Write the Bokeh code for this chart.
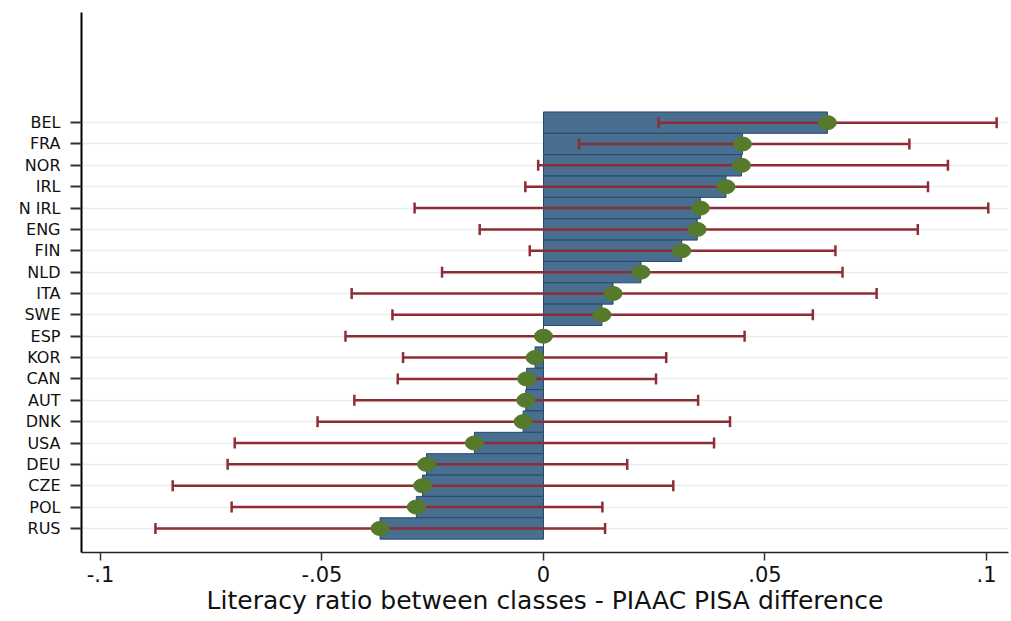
import math
from bokeh.plotting import figure
from bokeh.models import Range1d, FixedTicker, ColumnDataSource
from bokeh.embed import file_html
from bokeh.resources import INLINE

# ---- data (top to bottom as shown) ----
countries = ["BEL", "FRA", "NOR", "IRL", "N IRL", "ENG", "FIN", "NLD", "ITA", "SWE",
             "ESP", "KOR", "CAN", "AUT", "DNK", "USA", "DEU", "CZE", "POL", "RUS"]
estimate = [0.0641, 0.0449, 0.0447, 0.0412, 0.0354, 0.0347, 0.0312, 0.0220, 0.0157, 0.0132,
            0.0000, -0.0019, -0.0038, -0.0040, -0.0046, -0.0156, -0.0264, -0.0273, -0.0287, -0.0369]
ci_low = [0.0260, 0.0080, -0.0012, -0.0041, -0.0291, -0.0144, -0.0031, -0.0229, -0.0433, -0.0341,
          -0.0447, -0.0317, -0.0329, -0.0427, -0.0510, -0.0697, -0.0713, -0.0837, -0.0704, -0.0876]
ci_high = [0.1023, 0.0826, 0.0913, 0.0868, 0.1004, 0.0845, 0.0659, 0.0675, 0.0752, 0.0608,
           0.0454, 0.0277, 0.0254, 0.0349, 0.0421, 0.0385, 0.0189, 0.0293, 0.0133, 0.0139]
x_tick_values = [-0.1, -0.05, 0.0, 0.05, 0.1]
x_tick_labels = ["-.1", "-.05", "0", ".05", ".1"]
x_title = "Literacy ratio between classes - PIAAC PISA difference"

n = len(countries)
pos = list(range(n, 0, -1))

src = ColumnDataSource(dict(pos=pos, est=estimate, lo=ci_low, hi=ci_high, name=countries))

FONT = "DejaVu Sans"
BAR = "#486e90"
BAR_LINE = "#27496b"
ERR = "#8f2d35"
DOT = "#557a2c"

p = figure(width=1009, height=620, output_backend="svg", toolbar_location=None,
           x_range=Range1d(-0.10429, 0.10497), y_range=Range1d(-0.126, 25.156),
           min_border_left=81, min_border_right=1, min_border_top=12, min_border_bottom=68,
           background_fill_color="white", border_fill_color="white")
p.outline_line_color = None

# bars
p.hbar(y="pos", left=0, right="est", height=1.0, fill_color=BAR, line_color=BAR_LINE,
       line_width=1, source=src)

# error bars (line + caps)
p.segment(x0="lo", x1="hi", y0="pos", y1="pos", line_color=ERR, line_width=2.5, source=src)
p.scatter(x="lo", y="pos", marker="dash", angle=math.pi / 2, size=11,
          line_color=ERR, line_width=2.5, source=src)
p.scatter(x="hi", y="pos", marker="dash", angle=math.pi / 2, size=11,
          line_color=ERR, line_width=2.5, source=src)

# point estimates
p.ellipse(x="est", y="pos", width=18, height=14, width_units="screen", height_units="screen",
          fill_color=DOT, line_color=DOT, source=src)

# y axis
p.yaxis.ticker = FixedTicker(ticks=pos)
p.yaxis.major_label_overrides = {int(k): v for k, v in zip(pos, countries)}
p.yaxis.major_tick_out = 11
p.yaxis.major_tick_in = 0
p.yaxis.minor_tick_line_color = None
p.yaxis.axis_line_color = "black"
p.yaxis.axis_line_width = 2
p.yaxis.major_tick_line_color = "#333333"
p.yaxis.major_tick_line_width = 2
p.yaxis.major_label_standoff = 10
p.yaxis.major_label_text_font = FONT
p.yaxis.major_label_text_font_size = "16px"
p.yaxis.major_label_text_color = "#111111"

# x axis
p.xaxis.ticker = FixedTicker(ticks=x_tick_values)
p.xaxis.major_label_overrides = {float(k): v for k, v in zip(x_tick_values, x_tick_labels)}
p.xaxis.major_tick_out = 8
p.xaxis.major_tick_in = 0
p.xaxis.minor_tick_line_color = None
p.xaxis.axis_line_color = "#222222"
p.xaxis.axis_line_width = 1.5
p.xaxis.major_tick_line_color = "#333333"
p.xaxis.major_tick_line_width = 1.5
p.xaxis.major_label_standoff = 5
p.xaxis.major_label_text_font = FONT
p.xaxis.major_label_text_font_size = "21px"
p.xaxis.major_label_text_color = "#111111"
p.xaxis.axis_label = x_title
p.xaxis.axis_label_text_font = FONT
p.xaxis.axis_label_text_font_size = "25px"
p.xaxis.axis_label_text_font_style = "normal"
p.xaxis.axis_label_text_color = "#111111"
p.xaxis.axis_label_standoff = 1

# grid
p.xgrid.grid_line_color = None
p.ygrid.ticker = FixedTicker(ticks=pos)
p.ygrid.grid_line_color = "#e6eef1"
p.ygrid.grid_line_width = 1.5

open("out.html", "w").write(file_html(p, INLINE))
